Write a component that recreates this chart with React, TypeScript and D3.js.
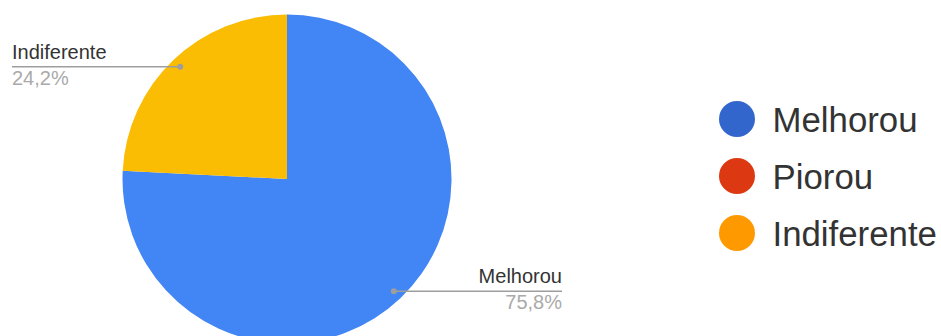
import React from "react";
import * as d3 from "d3";

const categories = ["Melhorou", "Piorou", "Indiferente"];
const values = [75.8, 0, 24.2];
const percentLabels = ["75,8%", "0%", "24,2%"];
const sliceColors = ["#4285f4", "#ea4335", "#fbbc04"];
const legendColors = ["#3366cc", "#dc3912", "#ff9900"];

const W = 941;
const H = 336;
const cx = 287;
const cy = 179;
const R = 164.5;
const dotR = 155;

export default function App() {
  const pie = d3.pie<number>().sort(null).value((d) => d);
  const arcs = pie(values);
  const arc = d3.arc<d3.PieArcDatum<number>>().innerRadius(0).outerRadius(R);
  const dotArc = d3.arc<d3.PieArcDatum<number>>().innerRadius(dotR).outerRadius(dotR);

  const labelEdge: Record<string, number> = { Melhorou: 562, Indiferente: 12 };

  return (
    <svg
      width={W}
      height={H}
      style={{ position: "absolute", left: 0, top: 0, fontFamily: "Liberation Sans, Arial, sans-serif" }}
    >
      <rect width={W} height={H} fill="#fff" />
      <g transform={`translate(${cx},${cy})`}>
        {arcs.map((a, i) =>
          a.endAngle > a.startAngle ? (
            <path key={i} d={arc(a) || ""} fill={sliceColors[i]} />
          ) : null
        )}
      </g>
      {arcs.map((a, i) => {
        if (a.value <= 0) return null;
        const [dx, dy] = dotArc.centroid(a);
        const px = cx + dx;
        const py = cy + dy;
        const right = dx > 0;
        const edge = labelEdge[categories[i]];
        return (
          <g key={"lab" + i}>
            <line x1={px} y1={py} x2={edge} y2={py} stroke="#9e9e9e" strokeWidth={1.5} />
            <circle cx={px} cy={py} r={3} fill="#9e9e9e" />
            <text
              x={edge}
              y={py - 8}
              fontSize={20}
              fill="#333"
              textAnchor={right ? "end" : "start"}
            >
              {categories[i]}
            </text>
            <text
              x={edge}
              y={py + 18}
              fontSize={20}
              fill="#aaa"
              textAnchor={right ? "end" : "start"}
            >
              {percentLabels[i]}
            </text>
          </g>
        );
      })}
      {categories.map((c, i) => (
        <g key={"leg" + i} transform={`translate(737,${119 + i * 57})`}>
          <circle r={18} fill={legendColors[i]} />
          <text x={35.5} y={12.5} fontSize={34.8} fill="#333">
            {c}
          </text>
        </g>
      ))}
    </svg>
  );
}
